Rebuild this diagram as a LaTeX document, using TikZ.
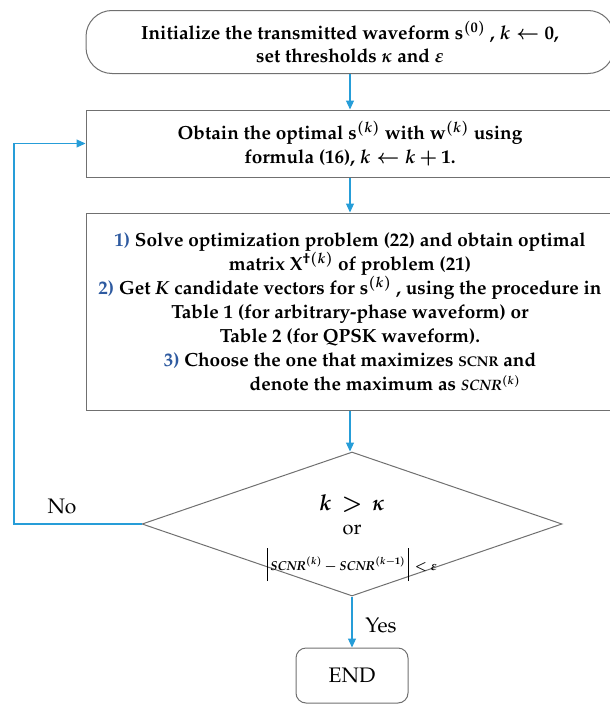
\documentclass[tikz,border=0pt]{standalone}
\usepackage[T1]{fontenc}
\usepackage{mathpazo}
\usepackage{amsmath}
\usepackage{tikz}
\usetikzlibrary{positioning, arrows.meta, shapes.geometric}

\definecolor{flowblue}{RGB}{38,157,216}
\definecolor{boxgray}{RGB}{112,112,112}
\definecolor{numblue}{RGB}{46,90,160}

\begin{document}
\begin{tikzpicture}[x=1pt, y=-1pt, >={Triangle[length=9pt,width=8pt]}] % frecce a triangolo
    % Stili dei blocchi del diagramma
    \tikzset{
        process/.style={
            draw=boxgray,
            line width=1pt,
            fill=white,
            minimum width=528pt,
            inner sep=0pt,
            align=center,
            font=\fontsize{19}{24}\selectfont\bfseries\boldmath
        },
        startbox/.style={process, rounded corners=26pt},
        decision/.style={
            diamond,
            draw=boxgray,
            line width=1pt,
            minimum width=420pt,
            minimum height=144pt,
            inner sep=0pt
        },
        endbox/.style={
            draw=boxgray,
            line width=1pt,
            rounded corners=10pt,
            minimum width=112pt,
            minimum height=55pt,
            font=\fontsize{21}{24}\selectfont
        },
        flow/.style={->, draw=flowblue, line width=1.1pt},
        tag/.style={font=\fontsize{21}{24}\selectfont}
    }
    \newcommand{\stepnum}[1]{\textcolor{numblue}{#1)}}
    \newcommand{\absbar}{\rule[-11pt]{0.6pt}{33pt}}

    % Area visibile dell'immagine
    \clip (0,0) rectangle (610,704);

    % --- Blocchi ---
    \node[startbox, minimum height=63pt, font=\fontsize{19}{23}\selectfont\bfseries\boldmath] (init) at (350,42)
        {Initialize the transmitted waveform $\mathbf{s}^{(0)}$ , $k \leftarrow 0$,\\
         set thresholds $\kappa$ and $\varepsilon$};

    \node[process, minimum height=67pt] (update) at (350,143.5)
        {Obtain the optimal $\mathbf{s}^{(k)}$ with $\mathbf{w}^{(k)}$ using\\
         formula (16), $k \leftarrow k+1$.};

    \node[process, minimum height=197pt] (solve) at (350,311.5)
        {\stepnum{1} Solve optimization problem (22) and obtain optimal\\
         matrix $\mathbf{X}^{\dagger(k)}$\ of problem (21)\\
         \stepnum{2} Get \textit{K} candidate vectors for $\mathbf{s}^{(k)}$ , using the procedure in\\
         Table 1 (for arbitrary-phase waveform) or\\
         Table 2 (for QPSK waveform).\\
         \stepnum{3} Choose the one that maximizes {\fontsize{14}{14}\selectfont SCNR} and\\
         \hspace*{70pt}denote the maximum as {\fontsize{15}{15}\selectfont$\mathit{SCNR}^{(k)}$}};

    % Rombo di decisione (testo in un nodo a parte)
    \node[decision] (check) at (352,524) {};
    \node[align=center, font=\fontsize{20}{22}\selectfont] (cond) at (352,538)
        {{\fontsize{22}{24}\selectfont\bfseries\boldmath $k \,>\, \kappa$}\\[2pt]
         or\\[12pt]
         {\fontsize{13}{15}\selectfont\boldmath $\absbar\mskip4mu\mathit{SCNR}^{(k)} - \mathit{SCNR}^{(k-1)}\mskip4mu\absbar\mskip3mu < \varepsilon$}};

    \node[endbox] (stop) at (352,675.5) {END};

    % Punto di ritorno del ciclo
    \coordinate (back) at (14,524);

    % --- Collegamenti ---
    \draw[flow] (init) -- (update);
    \draw[flow] (update) -- (solve);
    \draw[flow] (solve.south) -- (solve.south |- check.north);
    \draw[flow] (check.south -| stop) -- (stop);
    \draw[flow] (check.west) -- (back) |- (update.west);

    % Etichette dei rami
    \node[tag] (no) at (62,506) {No};
    \node[tag] (yes) at (381,625) {Yes};

\end{tikzpicture}
\end{document}
